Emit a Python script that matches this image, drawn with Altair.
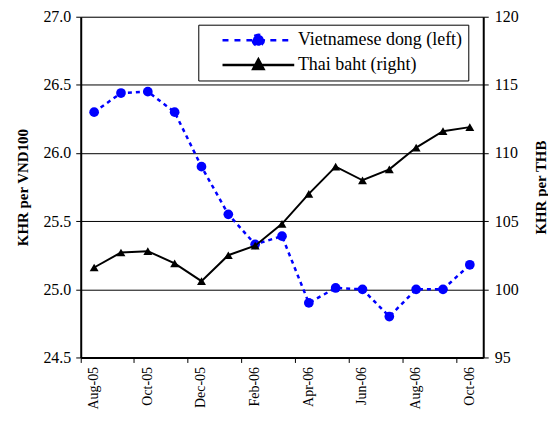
import altair as alt
import pandas as pd

months = ["Aug-05", "Sep-05", "Oct-05", "Nov-05", "Dec-05", "Jan-06", "Feb-06",
          "Mar-06", "Apr-06", "May-06", "Jun-06", "Jul-06", "Aug-06", "Sep-06", "Oct-06"]
vnd = [26.30, 26.44, 26.45, 26.30, 25.90, 25.55, 25.33, 25.39, 24.90, 25.01, 25.00, 24.80, 25.00, 25.00, 25.18]
thb = [101.6, 102.7, 102.8, 101.9, 100.6, 102.5, 103.2, 104.8, 107.0, 109.0, 108.0, 108.8, 110.4, 111.6, 111.9]
series = ["Vietnamese dong (left)", "Thai baht (right)"]
left_ticks = [24.5, 25.0, 25.5, 26.0, 26.5, 27.0]
right_ticks = [95, 100, 105, 110, 115, 120]

rows = []
for m, v in zip(months, vnd):
    rows.append({"month": m, "series": series[0], "value": v})
for m, v in zip(months, thb):
    rows.append({"month": m, "series": series[1], "value": v})
df = pd.DataFrame(rows)

FONT = "Times New Roman, Liberation Serif, serif"
BLUE = "#0000FF"
# legend symbols: a line segment with the marker in its middle
VND_PATH = "M1.1,0L10.1,0M4.91,0A0.69,0.69,0,1,0,6.29,0A0.69,0.69,0,1,0,4.91,0Z"
THB_PATH = "M1.1,0L10.1,0M5.6,-0.72L6.25,0.5L4.95,0.5Z"

x = alt.X(
    "month:N", sort=months, title=None,
    scale=alt.Scale(type="band", paddingInner=0, paddingOuter=0),
    axis=alt.Axis(values=months[::2], bandPosition=0, labelAngle=270,
                  labelFont=FONT, labelFontSize=14, labelColor="black", labelPadding=4,
                  tickColor="black", tickSize=5, domainColor="black", domainWidth=2,
                  grid=False),
)

legend = alt.Legend(
    title=None, orient="none", legendX=118, legendY=8,
    strokeColor="black", fillColor="white", padding=6, cornerRadius=0,
    labelFont=FONT, labelFontSize=18, labelColor="black", labelLimit=400,
    labelOffset=75, rowPadding=2, symbolSize=256, symbolStrokeWidth=2.5,
    symbolOpacity=1,
)

y_left = alt.Y(
    "value:Q", title="KHR per VND100",
    scale=alt.Scale(domain=[24.5, 27.0], nice=False, zero=False),
    axis=alt.Axis(values=left_ticks, format=".1f", orient="left", grid=True,
                  gridColor="black", gridWidth=1, tickColor="black", tickSize=5,
                  domainColor="black", domainWidth=2, labelFont=FONT, labelFontSize=16,
                  labelColor="black", labelPadding=5, titleFont=FONT, titleFontSize=15,
                  titleFontWeight="bold", titleColor="black", titlePadding=12),
)
y_right = alt.Y(
    "value:Q", title="KHR per THB",
    scale=alt.Scale(domain=[95, 120], nice=False, zero=False),
    axis=alt.Axis(values=right_ticks, format="d", orient="right", grid=False,
                  tickColor="black", tickSize=5, domainColor="black", domainWidth=2,
                  labelFont=FONT, labelFontSize=16, labelColor="black", labelPadding=6,
                  titleFont=FONT, titleFontSize=15, titleFontWeight="bold",
                  titleColor="black", titleAngle=270, titlePadding=30),
)

base = alt.Chart(df)
vnd_data = base.transform_filter(alt.datum.series == series[0])
thb_data = base.transform_filter(alt.datum.series == series[1])

vnd_line = vnd_data.mark_line(strokeDash=[4, 4], strokeWidth=2.5, color=BLUE).encode(x=x, y=y_left)
vnd_pts = vnd_data.mark_point(shape="circle", filled=True, size=95, opacity=1, color=BLUE).encode(x=x, y=y_left)
legend_layer = base.transform_filter("false").mark_point(filled=True, opacity=1).encode(
    x=x, y=y_left,
    fill=alt.Fill("series:N", scale=alt.Scale(domain=series, range=[BLUE, "#000000"]), legend=legend),
    stroke=alt.Stroke("series:N", scale=alt.Scale(domain=series, range=[BLUE, "#000000"]), legend=legend),
    shape=alt.Shape("series:N", scale=alt.Scale(domain=series, range=[VND_PATH, THB_PATH]), legend=legend),
    strokeDash=alt.StrokeDash("series:N", scale=alt.Scale(domain=series, range=[[6, 6], [1, 0]]), legend=legend),
)
thb_line = thb_data.mark_line(strokeWidth=2, color="black").encode(x=x, y=y_right)
thb_pts = thb_data.mark_point(shape="triangle-up", filled=True, size=80, opacity=1, color="black").encode(x=x, y=y_right)

left = alt.layer(vnd_line, vnd_pts, legend_layer)
right = alt.layer(thb_line, thb_pts)

chart = alt.layer(left, right).resolve_scale(y="independent").properties(
    width=404, height=342,
    padding={"left": 8, "top": 0, "right": 0, "bottom": 5},
).configure_view(stroke="black", strokeWidth=2).configure(background="white", font=FONT)

chart.save("out.html", embed_options={"renderer": "svg", "actions": False})
